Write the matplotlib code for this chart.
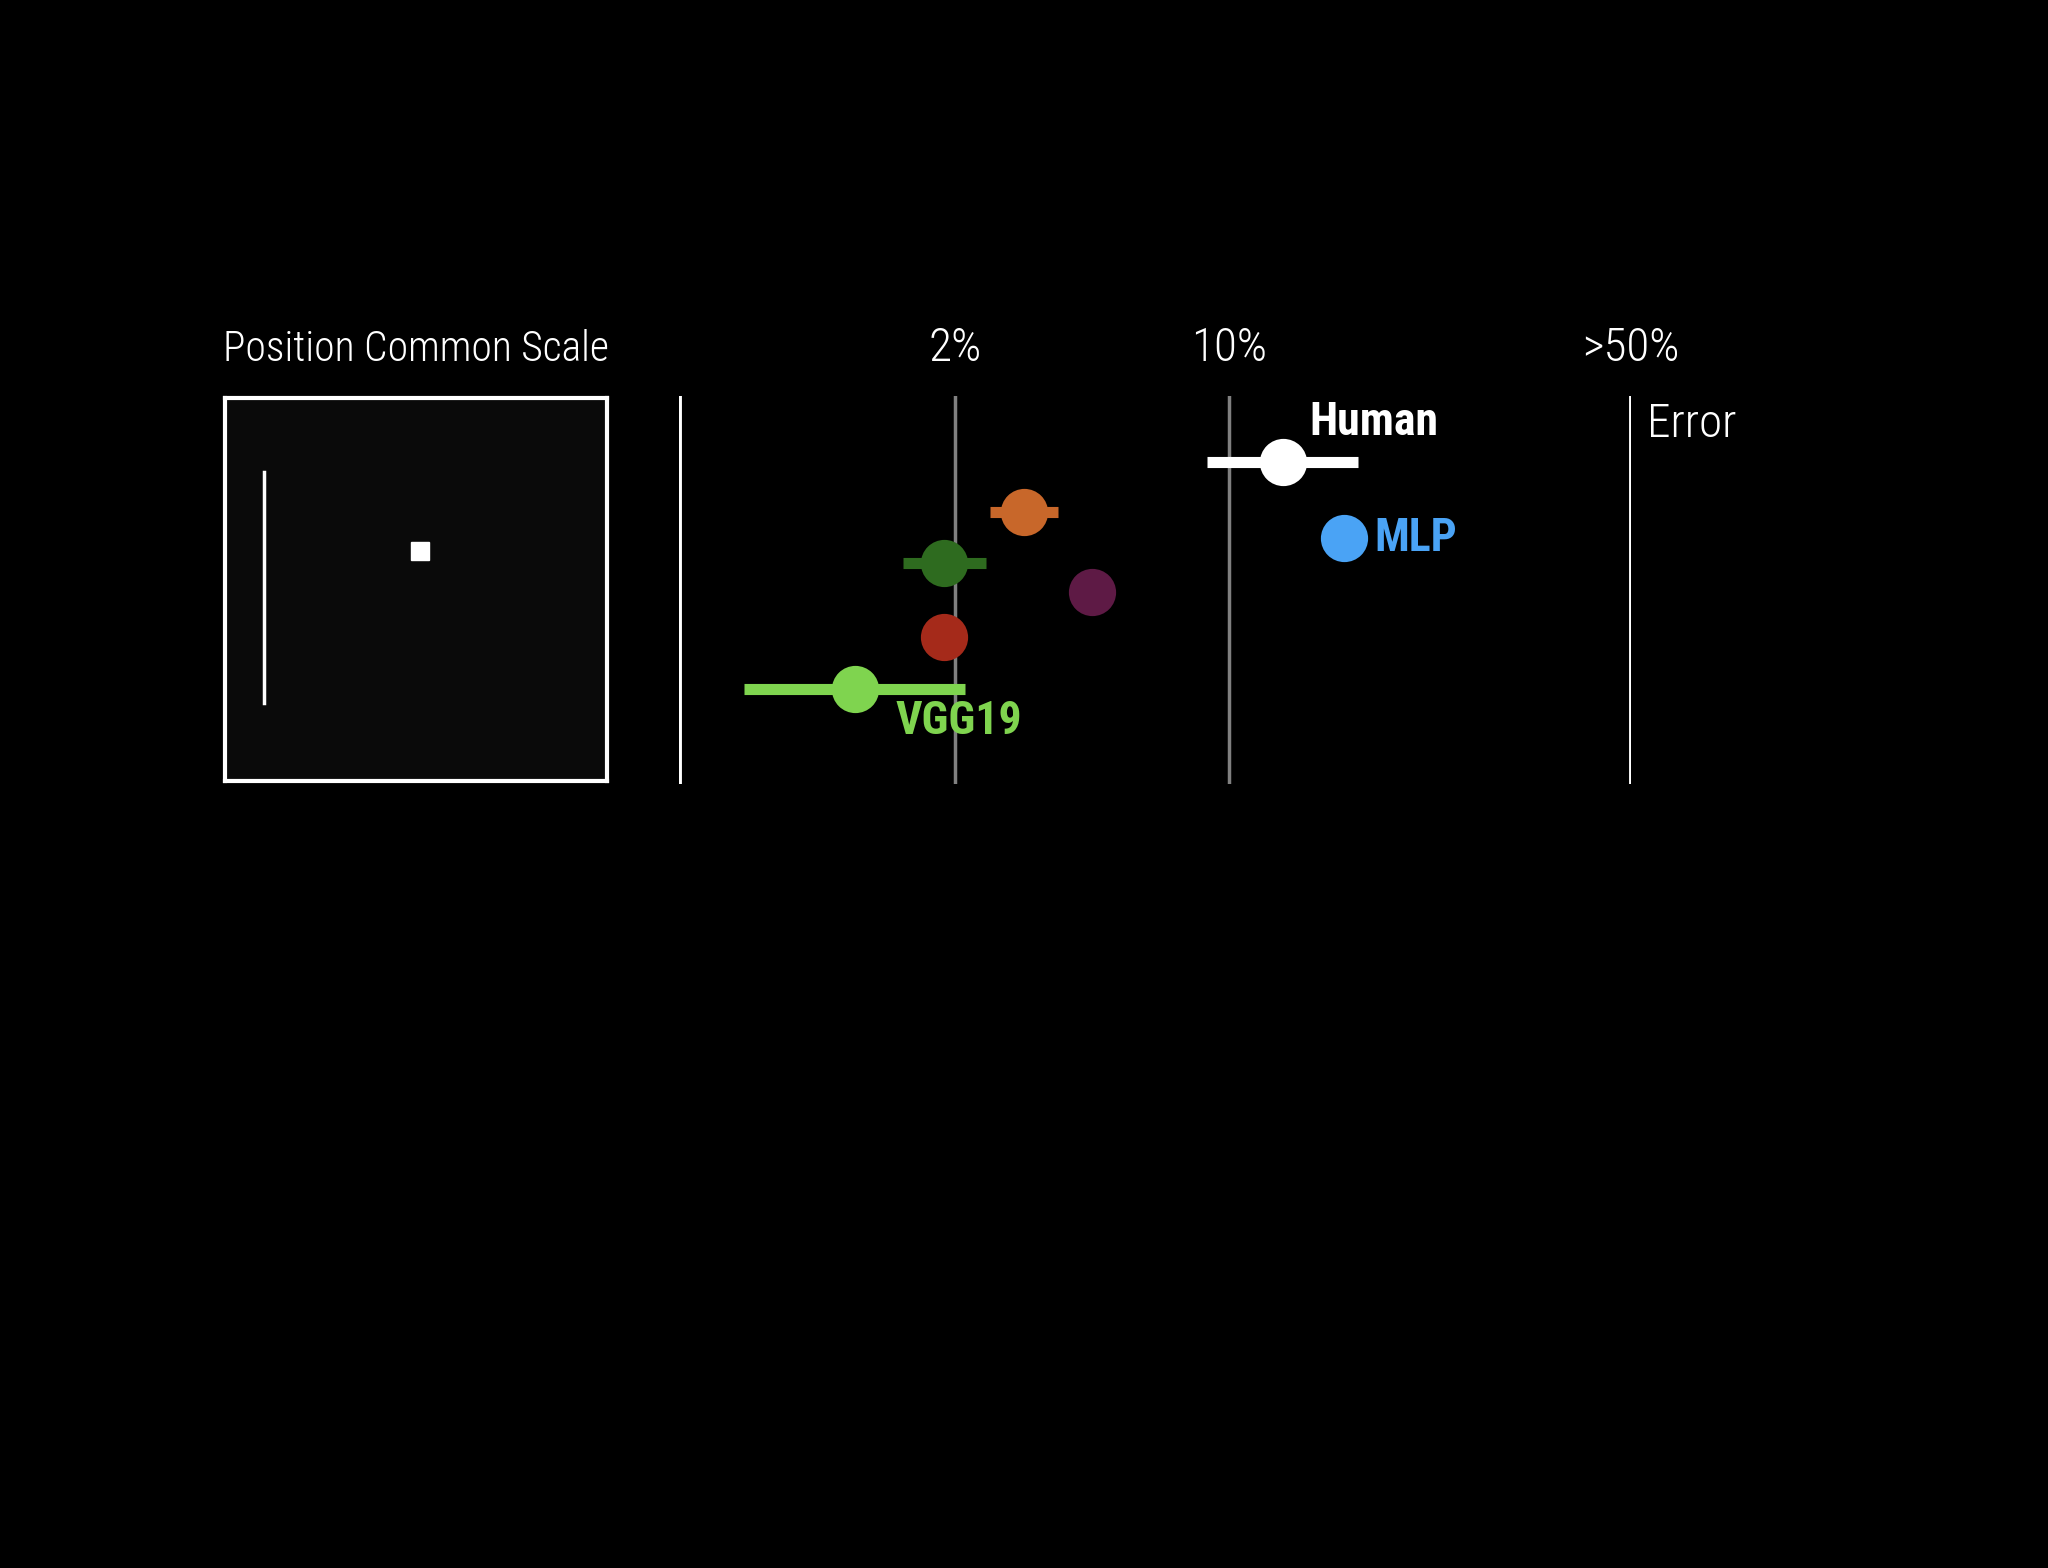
import matplotlib
matplotlib.use("Agg")
import matplotlib.pyplot as plt
from matplotlib import font_manager

# police etroite si disponible
noms = set(f.name for f in font_manager.fontManager.ttflist)
police = "DejaVu Sans"
for p in ["Roboto Condensed", "Liberation Sans Narrow", "DejaVu Sans Condensed"]:
    if p in noms:
        police = p
        break
plt.rcParams['font.family'] = [police, 'DejaVu Sans']

##########
# Donnees #
##########

modeles = ["Human", "orange", "vert fonce", "MLP", "violet", "rouge", "VGG19"]
erreur = [13.7, 3.0, 1.88, 19.6, 4.47, 1.88, 1.11]
erreur_bas = [8.77, 2.46, 1.47, None, None, None, 0.58]
erreur_haut = [21.3, 3.66, 2.4, None, None, None, 2.12]
couleurs = ["#ffffff", "#c8672a", "#2e6b1f", "#4aa3f5", "#5e1a45", "#a52a1a", "#7fd44f"]
rangs = [0.17, 0.30, 0.43, 0.365, 0.505, 0.62, 0.755]

graduations = [2, 10]
etiquettes = ["2%", "10%"]
limite = 106  # position de la colonne ">50%"
x_min = 0.395

fig = plt.figure(figsize=(20.48, 15.68), dpi=100, facecolor="black")

# Vignette du stimulus
vig = fig.add_axes([0.1099, 0.5019, 0.1865, 0.2443])
vig.set_facecolor("#0a0a0a")
vig.set_xlim(0, 1)
vig.set_ylim(1, 0)
vig.set_xticks([])
vig.set_yticks([])
for s in vig.spines.values():
    s.set_color("white")
    s.set_linewidth(3)
vig.plot([0.102, 0.102], [0.193, 0.796], color="white", lw=2.5)
vig.plot([0.51], [0.40], marker="s", color="white", markersize=13)
fig.text(0.2031, 0.7773, "Position Common Scale", color="white", fontsize=30,
         fontweight="light", ha="center", va="center")

# Graphe principal
ax = fig.add_axes([0.3315, 0.5, 0.4648, 0.2474])
ax.set_facecolor("black")
ax.set_xscale("log")
ax.set_xlim(x_min, limite)
ax.set_ylim(1, 0)
ax.axis("off")

ax.axvline(x_min, color="white", lw=3.5)
ax.axvline(limite, color="white", lw=3.5)
for g, e in zip(graduations, etiquettes):
    ax.axvline(g, color="#808080", lw=2.5, zorder=0)
    ax.text(g, -0.125, e, color="white", fontsize=34, fontweight="light",
            ha="center", va="center")
ax.text(limite, -0.125, ">50%", color="white", fontsize=34, fontweight="light",
        ha="center", va="center")
ax.text(limite * 1.1, 0.072, "Error", color="white", fontsize=34, fontweight="light",
        ha="left", va="center")

for i in range(len(modeles)):
    if erreur_bas[i] is not None:
        ax.plot([erreur_bas[i], erreur_haut[i]], [rangs[i], rangs[i]],
                color=couleurs[i], lw=8, solid_capstyle="butt", zorder=2)
    ax.plot([erreur[i]], [rangs[i]], "o", color=couleurs[i], markersize=34,
            markeredgewidth=0, zorder=3)

decalages = {"Human": (19, 29), "MLP": (22, 0), "VGG19": (29, -23)}
for i, m in enumerate(modeles):
    if m in decalages:
        ax.annotate(m, (erreur[i], rangs[i]), xytext=decalages[m],
                    textcoords="offset points", color=couleurs[i], fontsize=33,
                    fontweight="bold", ha="left", va="center")

fig.savefig("out.png", dpi=100, facecolor="black")
